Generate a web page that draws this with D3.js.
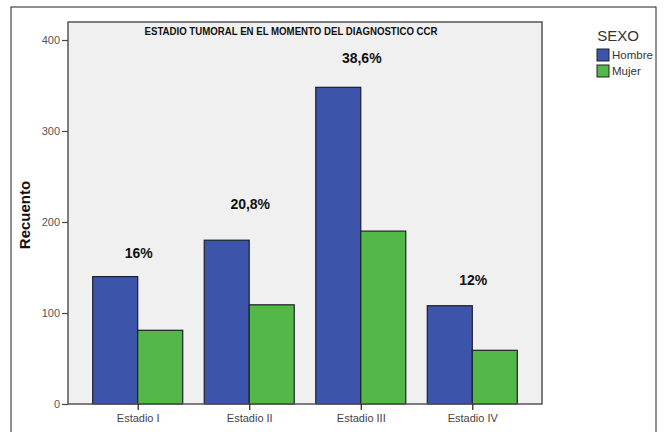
<!DOCTYPE html>
<html>
<head>
<meta charset="utf-8">
<script src="https://cdn.jsdelivr.net/npm/d3@7"></script>
<style>
  body { margin: 0; background: #fff; }
  svg { display: block; font-family: "Liberation Sans", Arial, sans-serif; }
</style>
</head>
<body>
<div id="chart"></div>
<script>
// Data
const categories = ["Estadio I", "Estadio II", "Estadio III", "Estadio IV"];
const series = ["Hombre", "Mujer"];
const hombre = [140, 180, 348, 108];
const mujer = [81, 109, 190, 59];
const pctLabels = ["16%", "20,8%", "38,6%", "12%"];
const pctHeights = [166, 220, 380, 136]; // where the annotations sit, in count units
const yTicks = [0, 100, 200, 300, 400];

const width = 665, height = 432;
const margin = { top: 22, right: 123, bottom: 28, left: 68 };
const colors = { Hombre: "#3c55aa", Mujer: "#54b848" };

const svg = d3.select("#chart").append("svg")
  .attr("width", width)
  .attr("height", height);

// outer frame (runs off the bottom)
svg.append("rect")
  .attr("x", 11).attr("y", 7)
  .attr("width", 645).attr("height", 440)
  .attr("fill", "#fff")
  .attr("stroke", "#222").attr("stroke-width", 1);

const x = d3.scalePoint()
  .domain(categories)
  .range([margin.left, width - margin.right])
  .padding(0.625);

const y = d3.scaleLinear()
  .domain([0, 400])
  .range([404, 40]);

const plotBottom = 404;
const barW = 45;

// plot background
svg.append("rect")
  .attr("x", margin.left).attr("y", margin.top)
  .attr("width", width - margin.right - margin.left)
  .attr("height", plotBottom - margin.top)
  .attr("fill", "#f0f0f0");

const rows = categories.map((c, i) => ({ cat: c, Hombre: hombre[i], Mujer: mujer[i] }));

const g = svg.append("g");
series.forEach((s, si) => {
  g.selectAll(".bar-" + s)
    .data(rows)
    .join("rect")
      .attr("class", "bar-" + s)
      .attr("x", d => x(d.cat) + (si - 1) * barW)
      .attr("y", d => y(d[s]))
      .attr("width", barW)
      .attr("height", d => y(0) - y(d[s]))
      .attr("fill", colors[s])
      .attr("stroke", "#1e1e2a")
      .attr("stroke-width", 1.2);
});

// plot border
svg.append("rect")
  .attr("x", margin.left).attr("y", margin.top)
  .attr("width", width - margin.right - margin.left)
  .attr("height", plotBottom - margin.top)
  .attr("fill", "none")
  .attr("stroke", "#555").attr("stroke-width", 1.5);

// axes
const yAxis = svg.append("g")
  .attr("transform", `translate(${margin.left},0)`)
  .call(d3.axisLeft(y).tickValues(yTicks).tickSize(6).tickPadding(2));
yAxis.select(".domain").remove();
yAxis.selectAll("line").attr("stroke", "#444").attr("stroke-width", 1.2);
yAxis.selectAll("text").attr("fill", "#555").style("font-size", "11px");

const xAxis = svg.append("g")
  .attr("transform", `translate(0,${plotBottom})`)
  .call(d3.axisBottom(x).tickSize(6).tickPadding(4));
xAxis.select(".domain").remove();
xAxis.selectAll("line").attr("stroke", "#222").attr("stroke-width", 1.2);
xAxis.selectAll("text").attr("fill", "#444").style("font-size", "11px");

// y title
svg.append("text")
  .attr("transform", "translate(30,215) rotate(-90)")
  .attr("text-anchor", "middle")
  .style("font-size", "15px").style("font-weight", "bold")
  .attr("fill", "#111")
  .text("Recuento");

// chart title
svg.append("text")
  .attr("x", 291).attr("y", 35)
  .attr("text-anchor", "middle")
  .attr("textLength", 293).attr("lengthAdjust", "spacingAndGlyphs")
  .style("font-size", "10px").style("font-weight", "bold")
  .attr("fill", "#111")
  .text("ESTADIO TUMORAL EN EL MOMENTO DEL DIAGNOSTICO CCR");

// percentage annotations
svg.selectAll(".pct")
  .data(categories)
  .join("text")
    .attr("class", "pct")
    .attr("x", d => x(d) + 1)
    .attr("y", (d, i) => y(pctHeights[i]) + 5)
    .attr("text-anchor", "middle")
    .style("font-size", "14px").style("font-weight", "bold")
    .attr("fill", "#111")
    .text((d, i) => pctLabels[i]);

// legend
const leg = svg.append("g").attr("transform", "translate(597,0)");
leg.append("text")
  .attr("x", 21).attr("y", 41)
  .attr("text-anchor", "middle")
  .style("font-size", "15px")
  .attr("fill", "#333")
  .text("SEXO");
series.forEach((s, i) => {
  leg.append("rect")
    .attr("x", 0).attr("y", 49 + i * 16)
    .attr("width", 12).attr("height", 12)
    .attr("fill", colors[s])
    .attr("stroke", "#222").attr("stroke-width", 1);
  leg.append("text")
    .attr("x", 15).attr("y", 59 + i * 16)
    .style("font-size", "11.5px")
    .attr("fill", "#333")
    .text(s);
});
</script>
</body>
</html>
